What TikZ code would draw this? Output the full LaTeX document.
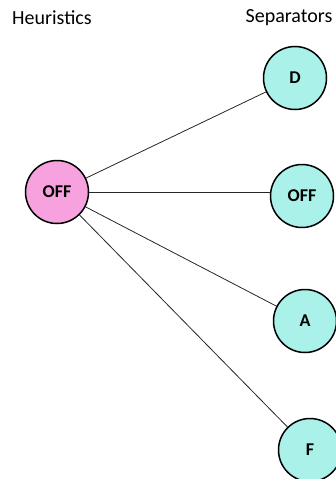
\documentclass[tikz,border=0pt]{standalone}
\usepackage{fontspec}
\setmainfont{Carlito}
\definecolor{heurpink}{HTML}{F7A2DE}
\definecolor{sepcyan}{HTML}{AAF1EA}
\begin{document}
\begin{tikzpicture}[x=1pt,y=-1pt,
  title/.style={font=\fontsize{20}{22}\selectfont, anchor=center},
  ball/.style={circle, draw=black, line width=1.5pt, minimum size=63pt, inner sep=0pt,
    font=\fontsize{18}{20}\selectfont\bfseries},
  link/.style={draw=black!85, line width=0.8pt}]
  \useasboundingbox (0,0) rectangle (335,479);
  % column headings
  \node[title] (heur) at (52,18) {Heuristics};
  \node[title] (sep) at (289,18) {Separators};
  % heuristic node
  \node[ball, fill=heurpink] (h) at (57,192) {OFF};
  % separator nodes
  \node[ball, fill=sepcyan] (d) at (295,78) {D};
  \node[ball, fill=sepcyan] (off) at (302,196) {OFF};
  \node[ball, fill=sepcyan] (a) at (305,321) {A};
  \node[ball, fill=sepcyan] (f) at (310,450) {F};
  % connections
  \draw[link] (h) -- (d);
  \draw[link] (h.east) -- (off.west |- h.east);
  \draw[link] (h) -- (a);
  \draw[link] (h) -- (f);
\end{tikzpicture}
\end{document}
